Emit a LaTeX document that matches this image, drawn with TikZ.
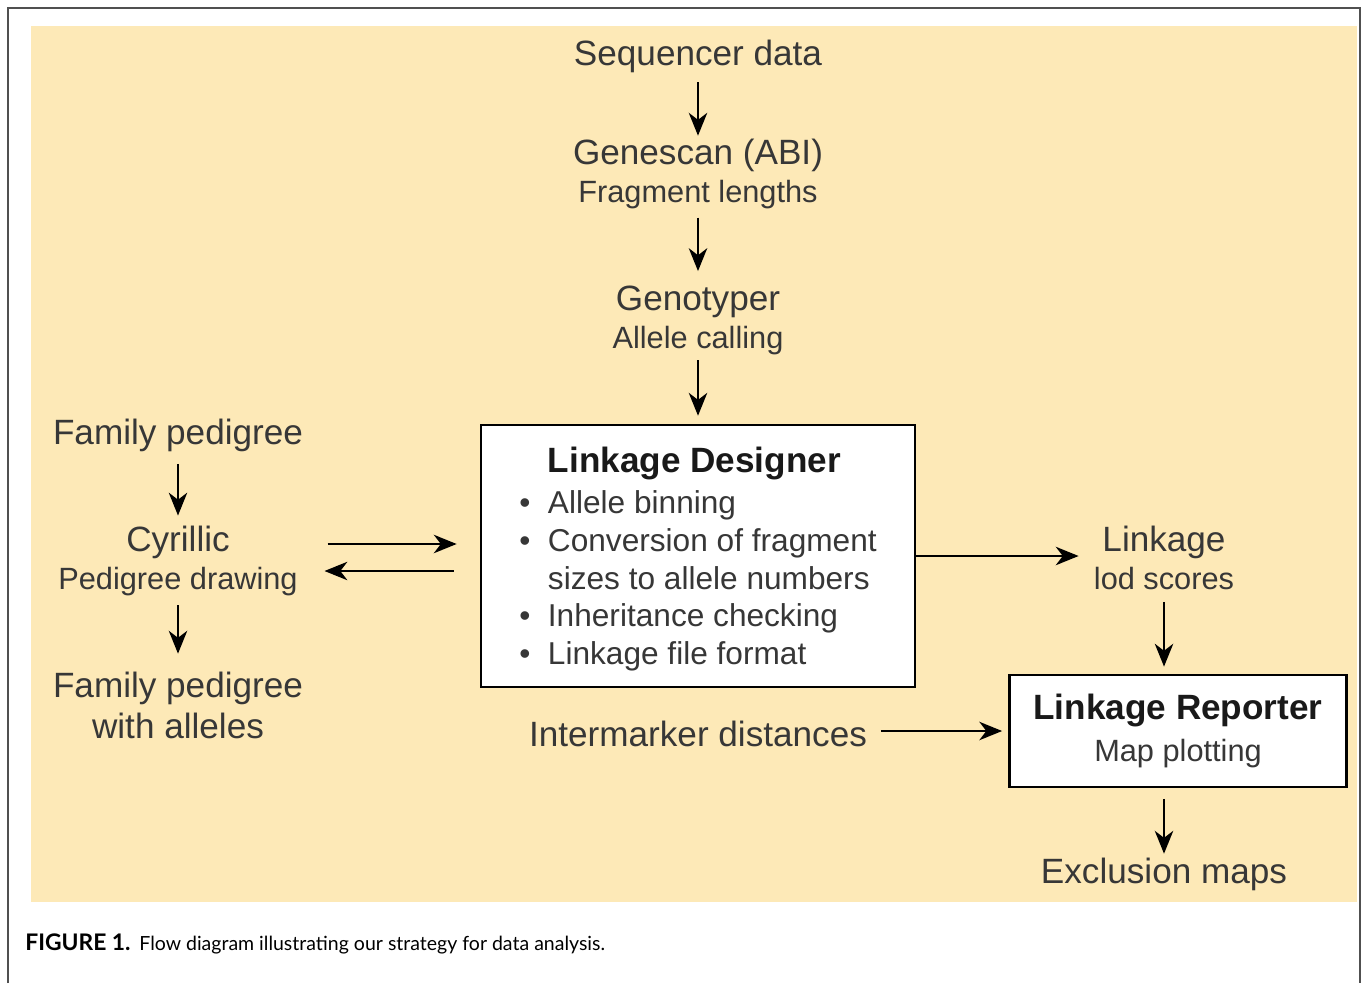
\documentclass[tikz,border=0pt]{standalone}
\usepackage{fontspec}
\setmainfont{Liberation Sans}
\newfontfamily\capfont{Lato}
\usetikzlibrary{arrows.meta, positioning, calc}

\definecolor{panelyellow}{RGB}{253,233,183}
\definecolor{framegray}{RGB}{80,80,80}
\definecolor{inkgray}{RGB}{55,55,55}

\tikzset{
  mainlbl/.style={anchor=base, inner sep=2pt, text=inkgray, font=\fontsize{20}{24}\selectfont},
  sublbl/.style={mainlbl, font=\fontsize{17.5}{21}\selectfont},
  prog/.style={draw, line width=1.6pt, fill=white, inner sep=0pt},
  flow/.style={->, line width=1.1pt},
}

\begin{document}
\begin{tikzpicture}[x=0.02cm, y=-0.02cm, >={Stealth[length=13pt, width=10.5pt, inset=4pt]}]
        \useasboundingbox (0,0) rectangle (1364,983);
        % Frame and panel
        \draw[framegray, line width=1.2pt] (8,983) -- (8,8) -- (1360,8) -- (1360,983);
        \fill[panelyellow] (31,26) rectangle (1357,902);

        % Nodes
        \node[mainlbl] (seq) at (698,66) {Sequencer data};
        \node[mainlbl] (gene) at (698,165) {Genescan (ABI)};
        \node[sublbl] (frag) at (698,202) {Fragment lengths};
        \node[mainlbl] (geno) at (698,310) {Genotyper};
        \node[sublbl] (call) at (698,348) {Allele calling};

        \node[prog, minimum width=8.68cm, minimum height=5.24cm] (ld) at (698,556) {%
          \fontsize{18}{21.5}\selectfont\color{inkgray}%
          \raisebox{0pt}[\dimexpr\height+0.2cm\relax][\depth]{\begin{tabular}{@{}c@{\hspace{10pt}}l@{}}
            & {\fontsize{20}{24}\selectfont\bfseries\color{black!90}Linkage Designer}\\[2pt]
            \textbullet & Allele binning\\
            \textbullet & Conversion of fragment\\
                        & sizes to allele numbers\\
            \textbullet & Inheritance checking\\
            \textbullet & Linkage file format
          \end{tabular}}};

        \node[mainlbl] (fam) at (178,444) {Family pedigree};
        \node[mainlbl] (cyr) at (178,551) {Cyrillic};
        \node[sublbl] (pedi) at (178,589) {Pedigree drawing};
        \node[mainlbl] (famal) at (178,697) {Family pedigree};
        \node[mainlbl] (alle) at (178,738) {with alleles};

        \node[mainlbl] (link) at (1164,551) {Linkage};
        \node[sublbl] (lod) at (1164,589) {lod scores};

        \node[mainlbl] (inter) at (698,746) {Intermarker distances};

        \node[prog, minimum width=6.74cm, minimum height=2.24cm, align=center,
              font=\fontsize{17.5}{24}\selectfont] (lr) at (1178,731)
              {{\fontsize{20}{24}\selectfont\bfseries\color{black!90}Linkage Reporter}\\
               \textcolor{inkgray}{Map plotting}};

        \node[mainlbl] (excl) at (1164,883) {Exclusion maps};

        \node[anchor=base west, inner sep=0pt, font=\capfont\fontsize{11.1}{14}\selectfont] (cap) at (25,950)
              {{\fontsize{13}{14}\selectfont\bfseries FIGURE 1.}\hspace{5pt}Flow diagram illustrating our strategy for data analysis.};

        % Connectors
        \draw[flow, shorten <=3pt, shorten >=0pt] (seq) -- (gene);
        \draw[flow, shorten <=3pt, shorten >=6pt] (frag) -- (geno);
        \draw[flow, shorten <=1pt, shorten >=4.5pt] (call) -- (ld);

        \draw[flow, shorten <=5pt, shorten >=3.5pt] (fam) -- (cyr);
        \draw[flow, shorten <=3.5pt, shorten >=8pt] (pedi) -- (famal);

        \draw[flow] ($(pedi.east |- ld.west)+(26,-12)$) -- ($(ld.west)+(-23,-12)$);
        \draw[flow] ($(ld.west)+(-26,15)$) -- ($(pedi.east |- ld.west)+(23,15)$);

        \draw[flow] (ld.east) -- ($(link.west |- ld.east)+(-20,0)$);
        \draw[flow, shorten <=5pt, shorten >=4pt] (lod) -- (lod |- lr.north);
        \draw[flow] ($(inter.east |- lr.west)+(10,0)$) -- ($(lr.west)+(-6,0)$);
        \draw[flow, shorten <=6pt, shorten >=0pt] (lr.south -| excl) -- (excl);
    \end{tikzpicture}
\end{document}
